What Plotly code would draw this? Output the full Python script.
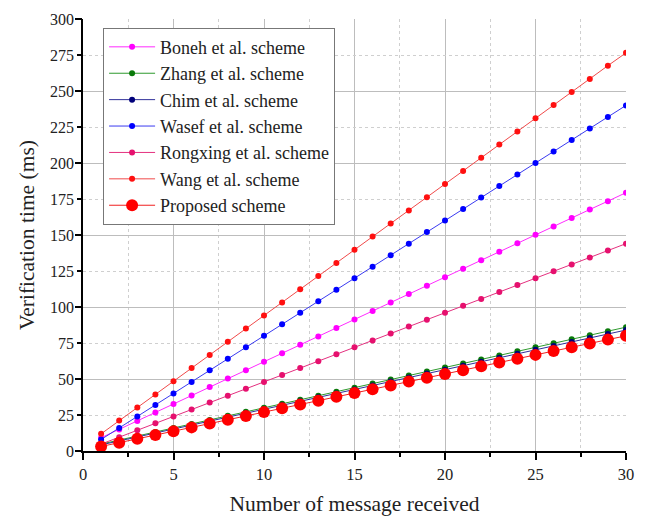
import plotly.graph_objects as go

messages = list(range(1, 31))

boneh = [9.2, 15.0, 20.9, 26.8, 32.7, 38.5, 44.4, 50.3, 56.1, 62.0, 67.9, 73.7, 79.6, 85.5, 91.4,
         97.2, 103.1, 109.0, 114.8, 120.7, 126.6, 132.4, 138.3, 144.2, 150.1, 155.9, 161.8, 167.7, 173.5, 179.4]
zhang = [4.8, 7.6, 10.4, 13.2, 16.0, 18.8, 21.6, 24.4, 27.2, 30.0, 32.8, 35.6, 38.4, 41.2, 44.0,
         46.8, 49.6, 52.4, 55.2, 58.0, 60.8, 63.6, 66.4, 69.2, 72.0, 74.8, 77.6, 80.4, 83.2, 86.0]
chim = [4.25, 7.0, 9.75, 12.5, 15.25, 18.0, 20.75, 23.5, 26.25, 29.0, 31.75, 34.5, 37.25, 40.0, 42.75,
        45.5, 48.25, 51.0, 53.75, 56.5, 59.25, 62.0, 64.75, 67.5, 70.25, 73.0, 75.75, 78.5, 81.25, 84.0]
wasef = [8, 16, 24, 32, 40, 48, 56, 64, 72, 80, 88, 96, 104, 112, 120,
         128, 136, 144, 152, 160, 168, 176, 184, 192, 200, 208, 216, 224, 232, 240]
rongxing = [4.8, 9.6, 14.4, 19.2, 24.0, 28.8, 33.6, 38.4, 43.2, 48.0, 52.8, 57.6, 62.4, 67.2, 72.0,
            76.8, 81.6, 86.4, 91.2, 96.0, 100.8, 105.6, 110.4, 115.2, 120.0, 124.8, 129.6, 134.4, 139.2, 144.0]
wang = [11.9, 21.1, 30.2, 39.3, 48.5, 57.6, 66.7, 75.8, 85.0, 94.1, 103.2, 112.4, 121.5, 130.6, 139.8,
        148.9, 158.0, 167.1, 176.3, 185.4, 194.5, 203.7, 212.8, 221.9, 231.1, 240.2, 249.3, 258.4, 267.6, 276.5]
proposed = [3.15, 5.8, 8.45, 11.1, 13.75, 16.4, 19.05, 21.7, 24.35, 27.0, 29.65, 32.3, 34.95, 37.6, 40.25,
            42.9, 45.55, 48.2, 50.85, 53.5, 56.15, 58.8, 61.45, 64.1, 66.75, 69.4, 72.05, 74.7, 77.35, 80.0]

series = [
    ("Boneh et al. scheme", boneh, "#FF2BFF", "#FF00FF", 6),
    ("Zhang et al. scheme", zhang, "#2E9A2E", "#0A7A0A", 6),
    ("Chim et al. scheme", chim, "#30309A", "#00007A", 6),
    ("Wasef et al. scheme", wasef, "#3A3AF0", "#0000FF", 6),
    ("Rongxing et al. scheme", rongxing, "#E4307F", "#E6106E", 6),
    ("Wang et al. scheme", wang, "#F04A4A", "#FF1010", 6),
    ("Proposed scheme", proposed, "#F02020", "#FF0000", 12),
]

fig = go.Figure()
for name, vals, lc, mc, ms in series:
    fig.add_trace(go.Scatter(
        x=messages, y=vals, name=name, mode="lines+markers",
        line=dict(color=lc, width=1),
        marker=dict(color=mc, size=ms, line=dict(width=0)),
    ))

# helper axis for solid major grid / long ticks at every 50
fig.add_trace(go.Scatter(x=[], y=[], yaxis="y2", showlegend=False, hoverinfo="skip"))

serif = "Liberation Serif, Times New Roman, serif"

# the page body adds an 8px offset, so margins are compensated
fig.update_layout(
    width=646, height=518,
    margin=dict(l=75, r=28, t=11, b=75, autoexpand=False),
    paper_bgcolor="white", plot_bgcolor="white",
    font=dict(family=serif, size=16, color="#222"),
    showlegend=True,
    legend=dict(
        x=0.037, y=0.98, xanchor="left", yanchor="top",
        bgcolor="white", bordercolor="#777", borderwidth=1,
        font=dict(family=serif, size=18, color="#222"),
        tracegroupgap=0, itemwidth=46,
    ),
    xaxis=dict(
        range=[0, 30], tick0=0, dtick=5, automargin=False,
        showline=True, linecolor="black", linewidth=1.5,
        ticks="outside", ticklen=7, tickwidth=1.5, tickcolor="black",
        showgrid=True, gridcolor="#BDBDBD", gridwidth=1,
        zeroline=False,
        minor=dict(dtick=2.5, ticks="outside", ticklen=4, tickwidth=1.5, tickcolor="black",
                   showgrid=True, gridcolor="#CFCFCF", griddash="dot", gridwidth=1),
        title=dict(text="Number of message received", font=dict(family=serif, size=21.5, color="#222"), standoff=13),
        tickfont=dict(family=serif, size=16.5, color="#222"),
    ),
    yaxis=dict(
        range=[0, 300], tick0=0, dtick=25, automargin=False,
        showline=True, linecolor="black", linewidth=1.5,
        ticks="outside", ticklen=4, tickwidth=1.5, tickcolor="black",
        showgrid=True, gridcolor="#CFCFCF", griddash="dot", gridwidth=1,
        zeroline=False,
        title=dict(text="Verification time (ms)", font=dict(family=serif, size=21.5, color="#222"), standoff=10),
        tickfont=dict(family=serif, size=16, color="#222"),
    ),
    yaxis2=dict(
        overlaying="y", side="left", range=[0, 300], tick0=0, dtick=50, automargin=False,
        showline=False, ticks="outside", ticklen=7, tickwidth=1.5, tickcolor="black",
        showticklabels=False, showgrid=True, gridcolor="#BDBDBD", gridwidth=1,
        zeroline=False,
    ),
)

fig.write_html("out.html")
